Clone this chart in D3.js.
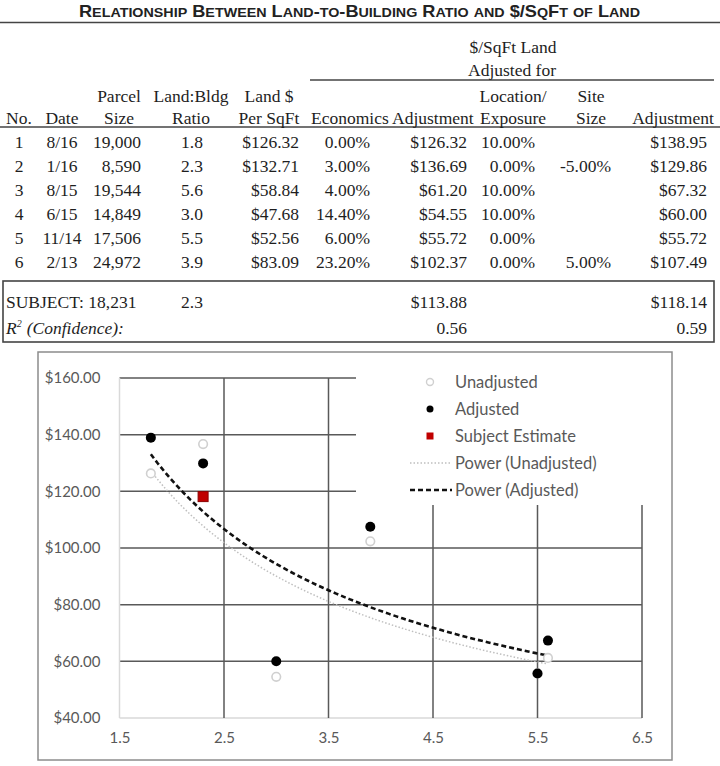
<!DOCTYPE html>
<html lang="en">
<head>
<meta charset="UTF-8">
<title>Land-to-Building Ratio and $/SqFt of Land</title>
<script src="https://d3js.org/d3.v7.min.js"></script>
<style>
    body { margin: 0; background: #fff; }
    svg { display: block; }
    .tbl { font-family: "Liberation Serif", "Times New Roman", serif; font-size: 17.5px; fill: #1e1e1e; }
    .tick-label { font-family: Lato, "Open Sans", sans-serif; font-size: 15px; fill: #595959; }
    .legend-label { font-family: Lato, "Open Sans", sans-serif; font-size: 16.5px; fill: #595959; }
</style>
</head>
<body>
<svg id="chart" width="720" height="766"></svg>
<script>
    // Table data
    const nos = [1, 2, 3, 4, 5, 6];
    const dates = ["8/16", "1/16", "8/15", "6/15", "11/14", "2/13"];
    const parcelSizes = [19000, 8590, 19544, 14849, 17506, 24972];
    const ratios = [1.8, 2.3, 5.6, 3.0, 5.5, 3.9];
    const landPerSqFt = [126.32, 132.71, 58.84, 47.68, 52.56, 83.09];
    const economics = [0.00, 3.00, 4.00, 14.40, 6.00, 23.20];
    const econAdjusted = [126.32, 136.69, 61.20, 54.55, 55.72, 102.37];
    const locationAdj = [10.00, 0.00, 10.00, 10.00, 0.00, 0.00];
    const siteSizeAdj = [null, -5.00, null, null, null, 5.00];
    const finalAdjusted = [138.95, 129.86, 67.32, 60.00, 55.72, 107.49];

    const subjectSize = 18231;
    const subjectRatio = 2.3;
    const subjectUnadjusted = 113.88;
    const subjectAdjusted = 118.14;
    const rSquared = [0.56, 0.59];

    // Chart axes
    const yTicks = [40, 60, 80, 100, 120, 140, 160];
    const xTicks = [1.5, 2.5, 3.5, 4.5, 5.5, 6.5];
    const legendItems = ["Unadjusted", "Adjusted", "Subject Estimate", "Power (Unadjusted)", "Power (Adjusted)"];
    const title = "Relationship Between Land-to-Building Ratio and $/SqFt of Land";

    const svg = d3.select("#chart");
    const fmt = d3.formatLocale({ decimal: ".", thousands: ",", grouping: [3], currency: ["$", ""], minus: "-" });
    const money = d => "$" + fmt.format(".2f")(d);
    const pct = d => fmt.format(".2f")(d) + "%";

    // ---------- title (hand-made small caps) ----------
    const tt = svg.append("text")
        .attr("x", 79).attr("y", 17)
        .attr("textLength", 561).attr("lengthAdjust", "spacingAndGlyphs")
        .style("font-family", "'Liberation Sans', Arial, sans-serif")
        .style("font-weight", "bold")
        .style("fill", "#222");
    title.match(/[a-z]+|[^a-z]+/g).forEach(run => {
        const small = /[a-z]/.test(run);
        tt.append("tspan")
            .style("font-size", small ? "13px" : "16.5px")
            .text(run.toUpperCase());
    });

    const rule = (x1, x2, y, w) => svg.append("line")
        .attr("x1", x1).attr("x2", x2).attr("y1", y).attr("y2", y)
        .attr("stroke", "#444").attr("stroke-width", w || 1.3);

    rule(0, 720, 22.5, 1.6);
    rule(310, 714, 80);
    rule(0, 720, 127, 1.6);

    // ---------- table ----------
    const tbl = svg.append("g").attr("class", "tbl");
    const put = (x, y, anchor, txt) => tbl.append("text")
        .attr("x", x).attr("y", y).attr("text-anchor", anchor).text(txt);

    put(513, 53, "middle", "$/SqFt Land");
    put(512, 76, "middle", "Adjusted for");

    const headers = [
        { x: 119, top: "Parcel", bottom: "Size" },
        { x: 191, top: "Land:Bldg", bottom: "Ratio" },
        { x: 269, top: "Land $", bottom: "Per SqFt" },
        { x: 513, top: "Location/", bottom: "Exposure" },
        { x: 591, top: "Site", bottom: "Size" }
    ];
    headers.forEach(h => {
        put(h.x, 101.5, "middle", h.top);
        put(h.x, 124, "middle", h.bottom);
    });
    put(19, 124, "middle", "No.");
    put(62, 124, "middle", "Date");
    put(311, 124, "start", "Economics");
    put(392, 124, "start", "Adjustment");
    put(673, 124, "middle", "Adjustment");

    nos.forEach((n, i) => {
        const y = 148 + i * 24;
        put(19, y, "middle", n);
        put(62, y, "middle", dates[i]);
        put(141, y, "end", fmt.format(",")(parcelSizes[i]));
        put(192, y, "middle", fmt.format(".1f")(ratios[i]));
        put(299, y, "end", money(landPerSqFt[i]));
        put(370, y, "end", pct(economics[i]));
        put(467, y, "end", money(econAdjusted[i]));
        put(535, y, "end", pct(locationAdj[i]));
        if (siteSizeAdj[i] !== null) put(611, y, "end", pct(siteSizeAdj[i]));
        put(707, y, "end", money(finalAdjusted[i]));
    });

    svg.append("rect")
        .attr("x", 3).attr("y", 281).attr("width", 711).attr("height", 61)
        .attr("fill", "none").attr("stroke", "#444").attr("stroke-width", 1.6);

    put(6, 308, "start", "SUBJECT: " + fmt.format(",")(subjectSize));
    put(192, 308, "middle", fmt.format(".1f")(subjectRatio));
    put(467, 308, "end", money(subjectUnadjusted));
    put(707, 308, "end", money(subjectAdjusted));

    const r2 = tbl.append("text").attr("x", 6).attr("y", 334).style("font-style", "italic");
    r2.append("tspan").text("R");
    r2.append("tspan").attr("dy", -7).style("font-size", "10px").text("2");
    r2.append("tspan").attr("dy", 7).attr("dx", 5).text("(Confidence):");
    put(467, 334, "end", fmt.format(".2f")(rSquared[0]));
    put(707, 334, "end", fmt.format(".2f")(rSquared[1]));

    // ---------- chart ----------
    svg.append("rect")
        .attr("x", 38).attr("y", 352).attr("width", 634).attr("height", 408)
        .attr("fill", "#fff").attr("stroke", "#8c8c8c").attr("stroke-width", 1.5);

    const x = d3.scaleLinear().domain([1.5, 6.5]).range([119.5, 642]);
    const y = d3.scaleLinear().domain([40, 160]).range([718, 378]);

    const grid = svg.append("g");
    grid.selectAll(".hgrid").data(yTicks).enter().append("line")
        .attr("x1", x(1.5)).attr("x2", x(6.5))
        .attr("y1", d => y(d)).attr("y2", d => y(d))
        .attr("stroke", d => d === 40 ? "#d9d9d9" : "#595959")
        .attr("stroke-width", 1.5);
    grid.selectAll(".vgrid").data(xTicks).enter().append("line")
        .attr("x1", d => x(d)).attr("x2", d => x(d))
        .attr("y1", y(160)).attr("y2", y(40))
        .attr("stroke", d => d === 1.5 ? "#d9d9d9" : "#595959")
        .attr("stroke-width", 1.5);

    const yAxis = svg.append("g").attr("transform", `translate(${x(1.5)},0)`)
        .call(d3.axisLeft(y).tickValues(yTicks).tickSize(0).tickPadding(19).tickFormat(money));
    const xAxis = svg.append("g").attr("transform", `translate(0,${y(40)})`)
        .call(d3.axisBottom(x).tickValues(xTicks).tickSize(0).tickPadding(14).tickFormat(fmt.format(".1f")));
    [yAxis, xAxis].forEach(a => {
        a.select(".domain").remove();
        a.selectAll("text").attr("class", "tick-label").attr("fill", null);
    });

    // power regression y = a * x^b on log-log data
    function powerFit(xs, ys) {
        const lx = xs.map(Math.log), ly = ys.map(Math.log);
        const mx = d3.mean(lx), my = d3.mean(ly);
        const b = d3.sum(lx, (v, i) => (v - mx) * (ly[i] - my)) / d3.sum(lx, v => (v - mx) * (v - mx));
        const a = Math.exp(my - b * mx);
        return v => a * Math.pow(v, b);
    }
    const xMin = d3.min(ratios), xMax = d3.max(ratios);
    const sampleX = d3.range(0, 61).map(i => xMin + (xMax - xMin) * i / 60);
    const line = f => d3.line().x(d => x(d)).y(d => y(f(d)))(sampleX);

    const fitUnadj = powerFit(ratios, econAdjusted);
    const fitAdj = powerFit(ratios, finalAdjusted);

    svg.append("path").attr("d", line(fitUnadj))
        .attr("fill", "none").attr("stroke", "#bfbfbf").attr("stroke-width", 1.5)
        .attr("stroke-dasharray", "1.5 2");
    svg.append("path").attr("d", line(fitAdj))
        .attr("fill", "none").attr("stroke", "#111").attr("stroke-width", 2.6)
        .attr("stroke-dasharray", "5 3");

    svg.selectAll(".unadj").data(ratios).enter().append("circle")
        .attr("cx", d => x(d)).attr("cy", (d, i) => y(econAdjusted[i])).attr("r", 4.3)
        .attr("fill", "#fff").attr("stroke", "#d0d0d0").attr("stroke-width", 1.6);
    svg.selectAll(".adj").data(ratios).enter().append("circle")
        .attr("cx", d => x(d)).attr("cy", (d, i) => y(finalAdjusted[i])).attr("r", 5)
        .attr("fill", "#000");
    svg.append("rect")
        .attr("x", x(subjectRatio) - 5).attr("y", y(subjectAdjusted) - 5)
        .attr("width", 10).attr("height", 10)
        .attr("fill", "#c00000").attr("stroke", "#8b0000").attr("stroke-width", 1);

    // legend (opaque, sits over the grid)
    const lg = svg.append("g");
    lg.append("rect").attr("x", 356).attr("y", 362).attr("width", 292).attr("height", 143).attr("fill", "#fff");
    const ly0 = 382, lstep = 27;
    legendItems.forEach((t, i) => {
        lg.append("text").attr("class", "legend-label")
            .attr("x", 455).attr("y", ly0 + i * lstep).attr("dy", "0.35em").text(t);
    });
    lg.append("circle").attr("cx", 430).attr("cy", ly0).attr("r", 3.5)
        .attr("fill", "#fff").attr("stroke", "#d0d0d0").attr("stroke-width", 1.4);
    lg.append("circle").attr("cx", 430).attr("cy", ly0 + lstep).attr("r", 3.5).attr("fill", "#000");
    lg.append("rect").attr("x", 426.5).attr("y", ly0 + 2 * lstep - 3.5).attr("width", 7).attr("height", 7)
        .attr("fill", "#c00000");
    lg.append("line").attr("x1", 410).attr("x2", 450).attr("y1", ly0 + 3 * lstep).attr("y2", ly0 + 3 * lstep)
        .attr("stroke", "#bfbfbf").attr("stroke-width", 1.3).attr("stroke-dasharray", "1.5 2");
    lg.append("line").attr("x1", 410).attr("x2", 452).attr("y1", ly0 + 4 * lstep).attr("y2", ly0 + 4 * lstep)
        .attr("stroke", "#111").attr("stroke-width", 2.4).attr("stroke-dasharray", "5 3");
</script>
</body>
</html>
